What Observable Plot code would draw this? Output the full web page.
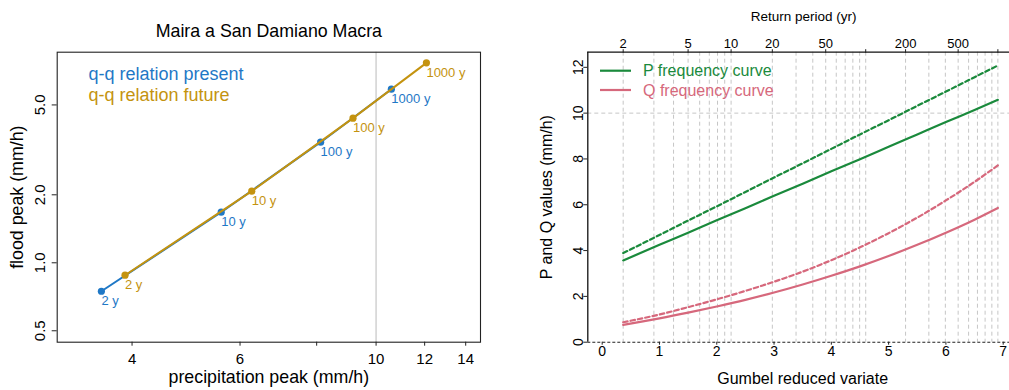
<!DOCTYPE html>
<html>
<head>
<meta charset="utf-8">
<script src="https://cdn.jsdelivr.net/npm/d3@7"></script>
<script src="https://cdn.jsdelivr.net/npm/@observablehq/plot@0.6"></script>
<style>
  body { margin: 0; background: #fff; }
  #wrap { position: relative; width: 1009px; height: 390px; font-family: "Liberation Sans", Arial, sans-serif; overflow: hidden; }
  #left { position: absolute; left: 0; top: 0; }
  #right { position: absolute; left: 505px; top: 0; }
  #legend { position: absolute; left: 0; top: 0; pointer-events: none; }
</style>
</head>
<body>
<div id="wrap">
  <div id="left"></div>
  <div id="right"></div>
  <svg id="legend" width="1009" height="390"></svg>
</div>
<script>
// ---------- Left panel data: q-q relation ----------
const qqPeriods = ["2 y", "10 y", "100 y", "1000 y"];
const presentPrecip = [3.565, 5.59, 8.12, 10.59];
const presentFlood  = [0.748, 1.675, 3.42, 5.87];
const futurePrecip  = [3.896, 6.27, 9.17, 12.08];
const futureFlood   = [0.881, 2.075, 4.37, 7.68];
const leftXTicks = [4, 6, 8, 10, 12, 14];
const leftYTicks = [0.5, 1.0, 2.0, 5.0];
const leftXDomain = [3.02, 14.8];
const leftYDomain = [0.445, 8.56];
const refLineX = [10];

// ---------- Right panel data: frequency curves ----------
const gumbelVariate = [0.367, 1.0, 1.5, 2.0, 2.5, 3.0, 3.5, 4.0, 4.5, 5.0, 5.5, 6.0, 6.5, 6.907];
const pPresent = [3.57, 4.25, 4.78, 5.32, 5.85, 6.39, 6.92, 7.46, 7.99, 8.53, 9.07, 9.61, 10.14, 10.58];
const pFuture  = [3.89, 4.68, 5.31, 5.93, 6.56, 7.19, 7.81, 8.44, 9.07, 9.69, 10.32, 10.94, 11.57, 12.08];
const qPresent = [0.76, 1.04, 1.29, 1.56, 1.85, 2.17, 2.52, 2.90, 3.31, 3.76, 4.25, 4.78, 5.35, 5.86];
const qFuture  = [0.87, 1.21, 1.53, 1.87, 2.24, 2.64, 3.08, 3.58, 4.14, 4.76, 5.44, 6.19, 7.00, 7.72];
const returnPeriodGrid = [2,3,4,5,6,7,8,9,10,20,30,40,50,60,70,80,90,100,200,300,400,500,600,700,800,900,1000];
const returnPeriodTicks = [2, 5, 10, 20, 50, 100, 200, 500, 1000];
const returnPeriodLabels = ["2", "5", "10", "20", "50", "", "200", "500", ""];
const rightXTicks = [0, 1, 2, 3, 4, 5, 6, 7];
const rightYTicks = [0, 2, 4, 6, 8, 10, 12];
const rightHGrid = [10];
const rightBaseLine = [0];
const rightXDomain = [-0.251, 7.11];
const rightYDomain = [0, 12.66];

const FONT = '"Liberation Sans", Arial, Helvetica, sans-serif';
const BLUE = "#1f78c6", GOLD = "#c4930f";
const GREEN = "#1a8a3c", PINK = "#d6687c";

// ---------- Left chart ----------
const present = qqPeriods.map((p, i) => ({x: presentPrecip[i], y: presentFlood[i], label: p}));
const future  = qqPeriods.map((p, i) => ({x: futurePrecip[i], y: futureFlood[i], label: p}));

const left = Plot.plot({
  width: 505, height: 390,
  marginLeft: 56.7, marginRight: 25, marginTop: 51.7, marginBottom: 48.3,
  style: {fontFamily: FONT, background: "white", color: "#000", overflow: "visible"},
  x: {type: "log", domain: leftXDomain},
  y: {type: "log", domain: leftYDomain},
  marks: [
    Plot.ruleX(refLineX, {stroke: "#d4d4d4", strokeWidth: 1.6}),
    Plot.frame({stroke: "#222", strokeWidth: 1.1}),
    Plot.axisX(leftXTicks, {tickSize: 4, tickPadding: 7, fontSize: 15, tickFormat: d => String(d), label: null, stroke: "#222"}),
    Plot.axisY(leftYTicks, {tickSize: 5, tickFormat: () => "", label: null, stroke: "#222"}),
    Plot.text(leftYTicks, {y: d => d, text: d => d.toFixed(1), frameAnchor: "left", dx: -16.7, rotate: -90, textAnchor: "middle", lineAnchor: "middle", fontSize: 15, fill: "#000"}),
    Plot.line(present, {x: "x", y: "y", stroke: BLUE, strokeWidth: 2}),
    Plot.dot(present, {x: "x", y: "y", r: 3.6, fill: BLUE}),
    Plot.text(present, {x: "x", y: "y", text: "label", dy: 10, dx: 0, textAnchor: "start", lineAnchor: "middle", fill: BLUE, fontSize: 13}),
    Plot.line(future, {x: "x", y: "y", stroke: GOLD, strokeWidth: 2}),
    Plot.dot(future, {x: "x", y: "y", r: 3.6, fill: GOLD}),
    Plot.text(future, {x: "x", y: "y", text: "label", dy: 10, dx: 0, textAnchor: "start", lineAnchor: "middle", fill: GOLD, fontSize: 13}),
    Plot.text(["q-q relation present"], {text: d => d, frameAnchor: "top-left", dx: 31.3, dy: 21.6, fill: BLUE, fontSize: 18, textAnchor: "start", lineAnchor: "middle"}),
    Plot.text(["q-q relation future"], {text: d => d, frameAnchor: "top-left", dx: 31.3, dy: 43.3, fill: GOLD, fontSize: 18, textAnchor: "start", lineAnchor: "middle"}),
    Plot.text(["Maira a San Damiano Macra"], {text: d => d, frameAnchor: "top", dy: -21, lineAnchor: "middle", fontSize: 17.8, fill: "#000"}),
    Plot.text(["precipitation peak (mm/h)"], {text: d => d, frameAnchor: "bottom", dy: 35.5, lineAnchor: "middle", fontSize: 17.8, fill: "#000"}),
    Plot.text(["flood peak (mm/h)"], {text: d => d, frameAnchor: "left", dx: -39.5, rotate: -90, textAnchor: "middle", lineAnchor: "middle", fontSize: 17.8, fill: "#000"})
  ]
});
document.getElementById("left").appendChild(left);

// ---------- Right chart ----------
const gumbel = T => -Math.log(-Math.log(1 - 1 / T));
const gridVariates = returnPeriodGrid.map(gumbel);
const topTickVariates = returnPeriodTicks.map(gumbel);
const topLabelOf = new Map(topTickVariates.map((v, i) => [v, returnPeriodLabels[i]]));

const mk = (arr) => gumbelVariate.map((g, i) => ({x: g, y: arr[i]}));

const right = Plot.plot({
  width: 504, height: 390,
  marginLeft: 82.3, marginRight: 0, marginTop: 51.7, marginBottom: 48.3,
  style: {fontFamily: FONT, background: "white", color: "#000", overflow: "visible"},
  x: {domain: rightXDomain},
  y: {domain: rightYDomain},
  marks: [
    Plot.ruleX(gridVariates, {stroke: "#c6c6c6", strokeDasharray: "4,3", strokeWidth: 1}),
    Plot.ruleY(rightHGrid, {stroke: "#c6c6c6", strokeDasharray: "4,3", strokeWidth: 1}),
    Plot.ruleY(rightBaseLine, {stroke: "#222", strokeDasharray: "3,2", strokeWidth: 1.1}),
    Plot.ruleX([rightXDomain[0]], {stroke: "#111", strokeWidth: 1.3}),
    Plot.ruleY([rightYDomain[1]], {stroke: "#111", strokeWidth: 1.3}),
    Plot.axisX(rightXTicks, {anchor: "bottom", tickSize: 3, tickPadding: 1, fontSize: 14, label: null, tickFormat: d => String(d), stroke: "#222"}),
    Plot.axisX(topTickVariates, {anchor: "top", tickSize: 3.5, tickPadding: 1, fontSize: 13, label: null, tickFormat: d => topLabelOf.get(d), stroke: "#222"}),
    Plot.axisY(rightYTicks, {tickSize: 4, tickFormat: () => "", label: null, stroke: "#222"}),
    Plot.text(rightYTicks, {y: d => d, text: d => String(d), frameAnchor: "left", dx: -9, rotate: -90, textAnchor: "middle", lineAnchor: "middle", fontSize: 14, fill: "#000"}),
    Plot.line(mk(pFuture), {x: "x", y: "y", stroke: GREEN, strokeWidth: 2.2, strokeDasharray: "4.5,3", curve: "monotone-x"}),
    Plot.line(mk(pPresent), {x: "x", y: "y", stroke: GREEN, strokeWidth: 2.2, curve: "monotone-x"}),
    Plot.line(mk(qFuture), {x: "x", y: "y", stroke: PINK, strokeWidth: 2.2, strokeDasharray: "4.5,3", curve: "monotone-x"}),
    Plot.line(mk(qPresent), {x: "x", y: "y", stroke: PINK, strokeWidth: 2.2, curve: "monotone-x"}),
    Plot.text(["Return period (yr)"], {text: d => d, frameAnchor: "top", dx: 5, dy: -35.5, lineAnchor: "middle", fontSize: 13.5, fill: "#000"}),
    Plot.text(["Gumbel reduced variate"], {text: d => d, frameAnchor: "bottom", dx: 4, dy: 36.8, lineAnchor: "middle", fontSize: 16, fill: "#000"}),
    Plot.text(["P and Q values (mm/h)"], {text: d => d, frameAnchor: "left", dx: -41, rotate: -90, textAnchor: "middle", lineAnchor: "middle", fontSize: 16, fill: "#000"})
  ]
});
document.getElementById("right").appendChild(right);

// ---------- Right legend (overlay) ----------
const legendItems = [
  {label: "P frequency curve", color: GREEN},
  {label: "Q frequency curve", color: PINK}
];
const lg = d3.select("#legend");
legendItems.forEach((d, i) => {
  const yy = 70.7 + i * 19.3;
  lg.append("line").attr("x1", 600).attr("x2", 631).attr("y1", yy).attr("y2", yy)
    .attr("stroke", d.color).attr("stroke-width", 2.2);
  lg.append("text").attr("x", 643).attr("y", yy + 5.6).attr("fill", d.color)
    .attr("font-family", FONT).attr("font-size", 16).text(d.label);
});
</script>
</body>
</html>
